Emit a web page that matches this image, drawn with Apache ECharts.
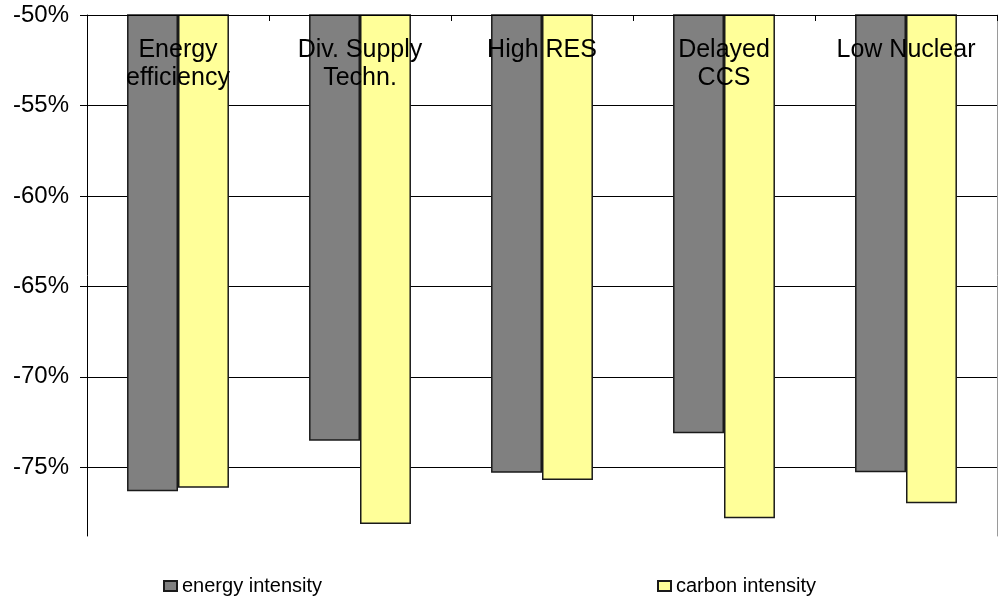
<!DOCTYPE html>
<html><head><meta charset="utf-8">
<script src="https://cdn.jsdelivr.net/npm/echarts@6/dist/echarts.min.js"></script>
<style>html,body{margin:0;padding:0;background:#fff}#c{width:1000px;height:596px}</style>
</head><body><div id="c"></div>
<script>
const categories = ['Energy\nefficiency', 'Div. Supply\nTechn.', 'High RES', 'Delayed\nCCS', 'Low Nuclear'];
const energyIntensity = [-76.33, -73.53, -75.30, -73.12, -75.28];
const carbonIntensity = [-76.13, -78.14, -75.70, -77.82, -76.99];
const yTicks = [-75, -70, -65, -60, -55, -50];
const seriesNames = ['energy intensity', 'carbon intensity'];

const font = 'Liberation Sans, Arial, sans-serif';
const chart = echarts.init(document.getElementById('c'));
chart.setOption({
  animation: false,
  grid: { left: 87, right: 3, top: 15, bottom: 60 },
  legend: [
    { data: [seriesNames[0]], left: 158, top: 571, icon: 'rect', itemWidth: 13, itemHeight: 10,
      itemGap: 6, textStyle: { fontFamily: font, fontSize: 20, color: '#000' } },
    { data: [seriesNames[1]], left: 652, top: 571, icon: 'rect', itemWidth: 13, itemHeight: 10,
      itemGap: 6, textStyle: { fontFamily: font, fontSize: 20, color: '#000' } }
  ],
  xAxis: {
    type: 'category', data: categories, position: 'top', z: 10,
    axisLine: { show: true, lineStyle: { color: '#000', width: 1 } },
    axisTick: { show: true, inside: true, length: 6, lineStyle: { color: '#000' } },
    axisLabel: { inside: true, margin: 21, fontFamily: font, fontSize: 25, color: '#000',
      lineHeight: 28, interval: 0, verticalAlign: 'top' },
    splitLine: { show: false }
  },
  yAxis: [{
    type: 'value', min: -78.8, max: -50,
    axisLine: { show: true, lineStyle: { color: '#000', width: 1 } },
    axisTick: { show: true, length: 7, customValues: yTicks, lineStyle: { color: '#000' } },
    axisLabel: { customValues: yTicks, margin: 18, fontFamily: font, fontSize: 24, color: '#000',
      formatter: v => v + '%' },
    splitLine: { show: true, lineStyle: { color: '#000', width: 1 } }
  }, {
    type: 'value', min: -78.8, max: -50, position: 'right',
    axisLine: { show: true, lineStyle: { color: '#9a9a9a', width: 1 } },
    axisTick: { show: false }, axisLabel: { show: false }, splitLine: { show: false }
  }],
  series: [
    { name: seriesNames[0], type: 'bar', data: energyIntensity, barWidth: '28%', barGap: '0%',
      itemStyle: { color: '#808080', borderColor: '#1a1a1a', borderWidth: 1.5 } },
    { name: seriesNames[1], type: 'bar', data: carbonIntensity, barWidth: '28%', barGap: '0%',
      itemStyle: { color: '#FFFF99', borderColor: '#1a1a1a', borderWidth: 1.5 } }
  ]
});
</script></body></html>
